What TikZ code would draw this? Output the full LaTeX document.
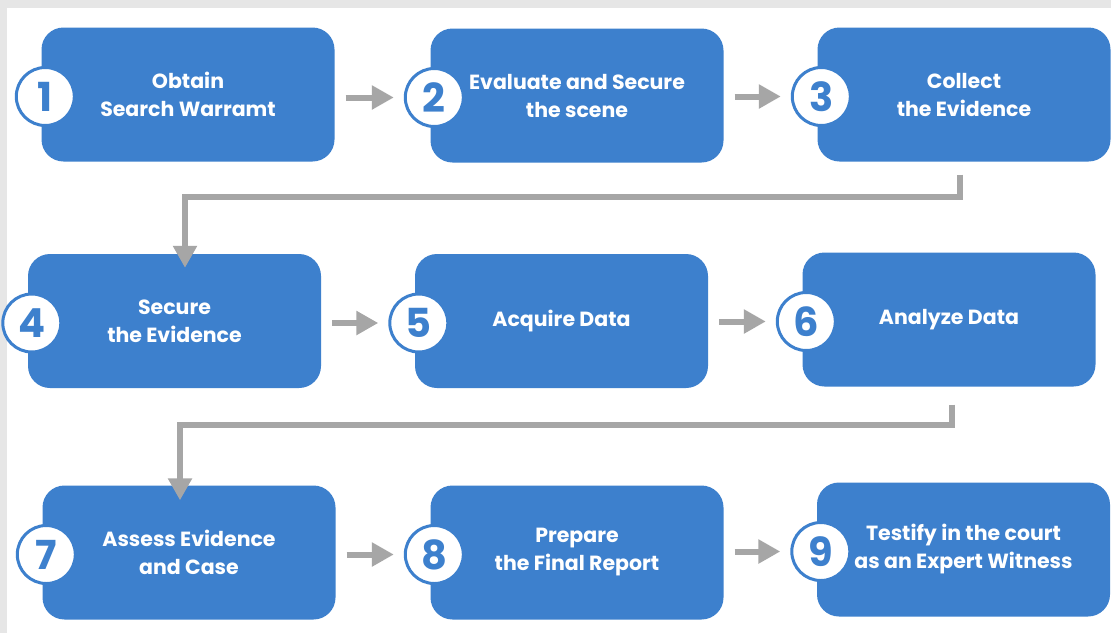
\documentclass[tikz,border=0pt]{standalone}
\usepackage{fontspec}
\setmainfont{Poppins}
\usetikzlibrary{arrows.meta,positioning}
\definecolor{boxblue}{RGB}{61,128,205}
\definecolor{flowgray}{RGB}{166,166,166}
\definecolor{framegray}{RGB}{230,230,230}
\tikzset{
stepbox/.style={fill=boxblue,rounded corners=22pt,minimum width=293pt,minimum height=134pt,
  text=white,align=center,font=\fontsize{20.5}{28}\selectfont\bfseries},
numcirc/.style={circle,draw=boxblue,line width=3pt,fill=white,minimum size=58pt,inner sep=0pt,
  text=boxblue,font=\fontsize{40}{40}\selectfont\bfseries},
flow/.style={draw=flowgray,line width=6pt,-{Triangle[width=23pt,length=22pt]}}
}

\begin{document}
\begin{tikzpicture}[x=1pt,y=-1pt]
\fill[framegray] (0,0) rectangle (1111,633);
\fill[white] (7,8) rectangle (1111,633);
\useasboundingbox (0,0) rectangle (1111,633);
% steps
\node[stepbox] (b1) at (188,94.5) {Obtain\\Search Warramt};
\node[stepbox] (b2) at (577,95.5) {Evaluate and Secure\\the scene};
\node[stepbox] (b3) at (964,94.5) {Collect\\the Evidence};
\node[stepbox] (b4) at (174.5,321) {Secure\\the Evidence};
\node[stepbox] (b5) at (561.5,321) {Acquire Data};
\node[stepbox] (b6) at (949,319.5) {Analyze Data};
\node[stepbox] (b7) at (189,552.5) {Assess Evidence\\and Case};
\node[stepbox] (b8) at (577,552.5) {Prepare\\the Final Report};
\node[stepbox] (b9) at (963.5,549.5) {Testify in the court\\as an Expert Witness};
% numbers
\foreach \i in {1,...,9}
  \node[numcirc] (c\i) at ([shift={(4,2)}]b\i.west) {\i};
% arrows
\path[every edge/.style={flow,shorten <=11pt,shorten >=10pt}]
(b1.east |- c2) edge (c2)
(b2.east |- c3) edge (c3)
(b4.east |- c5) edge (c5)
(b5.east |- c6) edge (c6)
(b7.east |- c8) edge (c8)
(b8.east |- c9) edge (c9);
\coordinate (k34) at (185,197);
\coordinate (k67) at (180,425);
\draw[flow] ([shift={(-4,13)}]b3.south) |- (k34) -- ([yshift=-14pt]b4.north -| k34);
\draw[flow] ([shift={(3,18)}]b6.south) |- (k67) -- ([yshift=-15pt]b7.north -| k67);
\end{tikzpicture}
\end{document}
